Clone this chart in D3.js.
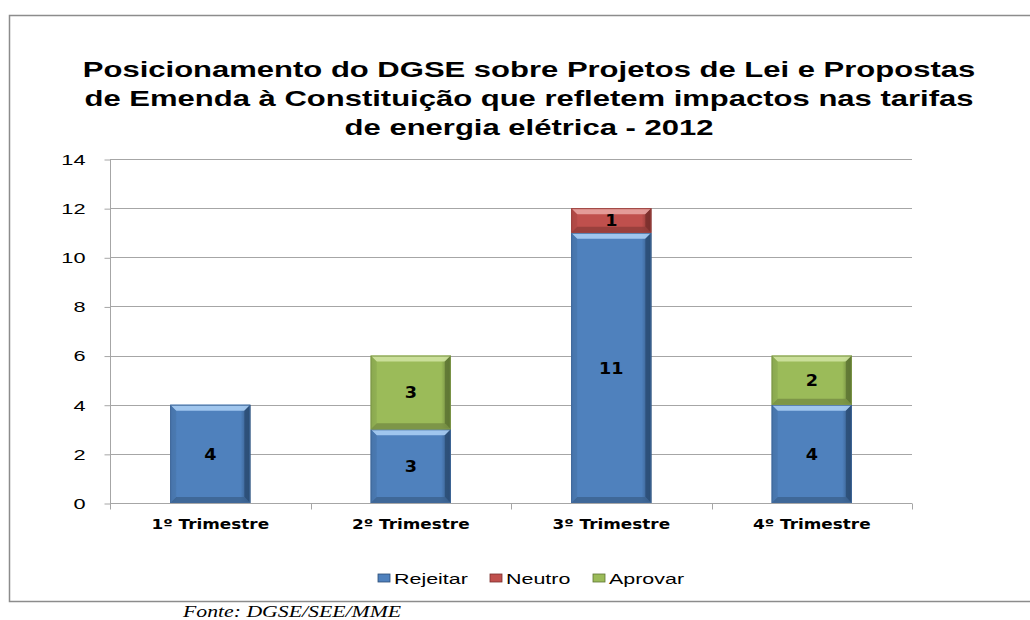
<!DOCTYPE html>
<html>
<head>
<meta charset="utf-8">
<script src="https://cdn.jsdelivr.net/npm/d3@7"></script>
<style>
  body { margin: 0; background: #fff; }
  svg { display: block; }
</style>
</head>
<body>
<svg id="chart" width="1030" height="620"></svg>
<script>
"use strict";

const titleLines = [
  "Posicionamento do DGSE sobre Projetos de Lei e Propostas",
  "de Emenda à Constituição que refletem impactos nas tarifas",
  "de energia elétrica - 2012"
];
const quarters = ["1º Trimestre", "2º Trimestre", "3º Trimestre", "4º Trimestre"];
const seriesNames = ["Rejeitar", "Neutro", "Aprovar"];
const rejeitar = [4, 3, 11, 4];
const neutro = [0, 0, 1, 0];
const aprovar = [0, 3, 0, 2];
const yTicks = [0, 2, 4, 6, 8, 10, 12, 14];
const source = "Fonte: DGSE/SEE/MME";

const colors = {
  Rejeitar: {base: "#4f81bd", light: "#a9cdf3", dark: "#2c4d75"},
  Neutro: {base: "#c0504d", light: "#e8a3a1", dark: "#7a2f2d"},
  Aprovar: {base: "#9bbb59", light: "#cfe3a0", dark: "#5e7534"},
};

// The reference picture is stretched sideways, so texts get a horizontal scale
function stretch(selection, sx) {
  selection.each(function () {
    const t = d3.select(this);
    const tx = +t.attr("x") || 0;
    const ty = +t.attr("y") || 0;
    t.attr("x", 0).attr("y", 0)
      .attr("transform", `translate(${tx},${ty}) scale(${sx},1)`);
  });
}

const svg = d3.select("#chart");

// Outer frame
svg.append("rect")
  .attr("x", 9.5).attr("y", 15.5)
  .attr("width", 1030).attr("height", 586)
  .attr("fill", "#fff")
  .attr("stroke", "#8c8c8c")
  .attr("stroke-width", 1.5);

// Title
svg.append("g")
  .selectAll("text")
  .data(titleLines)
  .enter()
  .append("text")
  .attr("x", 529)
  .attr("y", (d, i) => 77 + i * 29)
  .attr("text-anchor", "middle")
  .attr("font-family", "Liberation Sans, Arial, sans-serif")
  .attr("font-weight", "bold")
  .attr("font-size", 22)
  .text(d => d)
  .call(stretch, 1.41);

const margin = {left: 110, right: 912, top: 159, bottom: 503};

const x = d3.scaleBand()
  .domain(quarters)
  .range([margin.left, margin.right])
  .paddingInner(0.6)
  .paddingOuter(0.3);

const xOuter = d3.scaleBand()
  .domain(quarters)
  .range([margin.left, margin.right]);

const y = d3.scaleLinear()
  .domain([0, 14])
  .range([margin.bottom, margin.top]);

// Grid lines
svg.append("g")
  .selectAll("line")
  .data(yTicks.filter(d => d > 0))
  .enter()
  .append("line")
  .attr("x1", margin.left)
  .attr("x2", margin.right)
  .attr("y1", d => Math.round(y(d)) + 0.5)
  .attr("y2", d => Math.round(y(d)) + 0.5)
  .attr("stroke", "#a6a6a6")
  .attr("stroke-width", 1);

// Y axis
const yAxis = svg.append("g")
  .attr("transform", `translate(${margin.left + 0.5},0.5)`)
  .call(d3.axisLeft(y).tickValues(yTicks).tickSize(6).tickPadding(19));
yAxis.select(".domain").attr("stroke", "#a6a6a6").attr("d", `M0,${margin.top}V${margin.bottom}`);
yAxis.selectAll(".tick line").attr("stroke", "#a6a6a6");
yAxis.selectAll(".tick text")
  .attr("font-family", "Liberation Sans, Arial, sans-serif")
  .attr("font-size", 15)
  .attr("fill", "#000")
  .call(stretch, 1.45);

// X axis
const xAxisG = svg.append("g")
  .attr("transform", `translate(0,${Math.round(margin.bottom) + 0.5})`);
xAxisG.append("line")
  .attr("x1", margin.left).attr("x2", margin.right)
  .attr("stroke", "#a6a6a6");
xAxisG.selectAll("line.tick")
  .data(quarters.concat(["end"]))
  .enter()
  .append("line")
  .attr("class", "tick")
  .attr("x1", (d, i) => Math.round(margin.left + i * xOuter.step()) + 0.5)
  .attr("x2", (d, i) => Math.round(margin.left + i * xOuter.step()) + 0.5)
  .attr("y1", 0).attr("y2", 6)
  .attr("stroke", "#a6a6a6");
xAxisG.selectAll("text")
  .data(quarters)
  .enter()
  .append("text")
  .attr("x", d => x(d) + x.bandwidth() / 2)
  .attr("y", 25)
  .attr("text-anchor", "middle")
  .attr("font-family", "DejaVu Sans, Verdana, sans-serif")
  .attr("font-weight", "bold")
  .attr("font-size", 13.5)
  .text(d => d)
  .call(stretch, 1.25);

// Stacked data
const table = quarters.map((q, i) => ({
  quarter: q,
  Rejeitar: rejeitar[i],
  Neutro: neutro[i],
  Aprovar: aprovar[i],
}));
const stacked = d3.stack().keys(seriesNames)(table);

// Gradients
const defs = svg.append("defs");
seriesNames.forEach(name => {
  const c = colors[name];
  const g = defs.append("linearGradient")
    .attr("id", `grad-${name}`)
    .attr("x1", 0).attr("x2", 1).attr("y1", 0).attr("y2", 0);
  g.append("stop").attr("offset", "0%").attr("stop-color", d3.color(c.base).darker(0.3));
  g.append("stop").attr("offset", "8%").attr("stop-color", c.base);
  g.append("stop").attr("offset", "88%").attr("stop-color", c.base);
  g.append("stop").attr("offset", "100%").attr("stop-color", c.dark);
});

const bevel = 6;
const bars = svg.append("g");

stacked.forEach(layer => {
  const name = layer.key;
  const c = colors[name];
  layer.forEach(seg => {
    const v = seg[1] - seg[0];
    if (v <= 0) return;
    const q = seg.data.quarter;
    const x0 = x(q);
    const x1 = x(q) + x.bandwidth();
    const y0 = y(seg[1]);
    const y1 = y(seg[0]);
    const g = bars.append("g");

    g.append("rect")
      .attr("x", x0).attr("y", y0)
      .attr("width", x1 - x0).attr("height", y1 - y0)
      .attr("fill", `url(#grad-${name})`);

    // Bevel faces
    const b = Math.min(bevel, (y1 - y0) / 2);
    g.append("polygon")
      .attr("points", [[x0, y0], [x1, y0], [x1 - b, y0 + b], [x0 + b, y0 + b]].join(" "))
      .attr("fill", c.light).attr("opacity", 0.9);
    g.append("polygon")
      .attr("points", [[x1, y0], [x1, y1], [x1 - b, y1 - b], [x1 - b, y0 + b]].join(" "))
      .attr("fill", c.dark).attr("opacity", 0.85);
    g.append("polygon")
      .attr("points", [[x0, y1], [x1, y1], [x1 - b, y1 - b], [x0 + b, y1 - b]].join(" "))
      .attr("fill", d3.color(c.base).darker(0.8)).attr("opacity", 0.8);
    g.append("polygon")
      .attr("points", [[x0, y0], [x0 + b, y0 + b], [x0 + b, y1 - b], [x0, y1]].join(" "))
      .attr("fill", d3.color(c.base).darker(0.3)).attr("opacity", 0.6);
    g.append("rect")
      .attr("x", x0 + 0.5).attr("y", y0 + 0.5)
      .attr("width", x1 - x0 - 1).attr("height", y1 - y0 - 1)
      .attr("fill", "none")
      .attr("stroke", d3.color(c.base).darker(0.6))
      .attr("stroke-width", 1);

    // Value label
    g.append("text")
      .attr("x", (x0 + x1) / 2)
      .attr("y", (y0 + y1) / 2 + 6)
      .attr("text-anchor", "middle")
      .attr("font-family", "DejaVu Sans, Verdana, sans-serif")
      .attr("font-weight", "bold")
      .attr("font-size", 16)
      .text(v)
      .call(stretch, 1.1);
  });
});

// Legend
const legendItems = [
  {name: "Rejeitar", x: 378},
  {name: "Neutro", x: 490},
  {name: "Aprovar", x: 593},
];
const legend = svg.append("g").attr("transform", "translate(0,578)");
legendItems.forEach(item => {
  const c = colors[item.name];
  legend.append("rect")
    .attr("x", item.x).attr("y", -4)
    .attr("width", 12).attr("height", 8)
    .attr("fill", c.base)
    .attr("stroke", c.dark).attr("stroke-width", 0.8);
  legend.append("text")
    .attr("x", item.x + 16)
    .attr("y", 5.5)
    .attr("font-family", "Liberation Sans, Arial, sans-serif")
    .attr("font-size", 15)
    .text(item.name)
    .call(stretch, 1.43);
});

// Source
svg.append("text")
  .attr("x", 183)
  .attr("y", 617)
  .attr("font-family", "Liberation Serif, Times New Roman, serif")
  .attr("font-style", "italic")
  .attr("font-size", 17)
  .text(source)
  .call(stretch, 1.28);
</script>
</body>
</html>
